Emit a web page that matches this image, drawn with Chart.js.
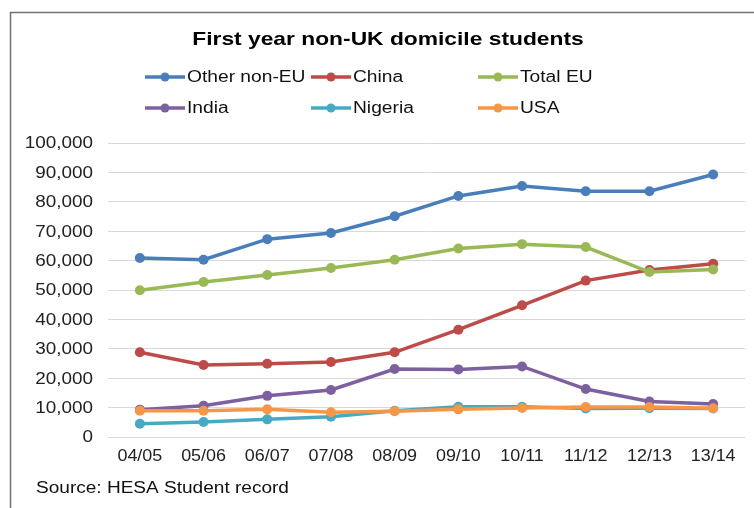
<!DOCTYPE html>
<html>
<head>
<meta charset="utf-8">
<script src="https://cdn.jsdelivr.net/npm/chart.js@4/dist/chart.umd.min.js"></script>
<style>
  html, body { margin: 0; padding: 0; background: #fff; }
  #wrap { position: relative; width: 754px; height: 508px; }
</style>
</head>
<body>
<div id="wrap"><canvas id="students" width="754" height="508"></canvas></div>
<script>
// academic years on the x axis
var years = ['04/05', '05/06', '06/07', '07/08', '08/09', '09/10', '10/11', '11/12', '12/13', '13/14'];

// first year students
var otherNonEU = [60900, 60300, 67300, 69400, 75100, 82000, 85400, 83600, 83600, 89300];
var china      = [28800, 24500, 24900, 25500, 28800, 36500, 44800, 53200, 56800, 58900];
var totalEU    = [49900, 52700, 55100, 57500, 60300, 64100, 65600, 64600, 56100, 57000];
var india      = [9300, 10600, 14000, 16000, 23100, 23000, 24000, 16300, 12100, 11200];
var nigeria    = [4500, 5100, 6000, 6900, 8900, 10300, 10300, 9700, 9800, 9700];
var usa        = [8900, 8900, 9400, 8400, 8800, 9400, 9900, 10200, 10200, 9800];

var names  = ['Other non-EU', 'China', 'Total EU', 'India', 'Nigeria', 'USA'];
var values = [otherNonEU, china, totalEU, india, nigeria, usa];
var colors = ['#4a7ebb', '#be4b48', '#98b954', '#7d60a0', '#46aac5', '#f79646'];

var titleText = 'First year non-UK domicile students';
var sourceText = 'Source: HESA Student record';

var datasets = [];
for (var i = 0; i < names.length; i++) {
    datasets.push({
        label: names[i],
        data: values[i],
        borderColor: colors[i],
        backgroundColor: colors[i],
        pointBackgroundColor: colors[i],
        pointBorderColor: colors[i],
        borderWidth: 3.5,
        pointRadius: 5,
        pointBorderWidth: 0,
        tension: 0,
        order: names.length - i
    });
}

var FONT = '"Liberation Sans", Arial, sans-serif';

// the source picture is a bit wider than tall, so text is drawn stretched
function wideText(ctx, text, x, y, align, sx) {
    ctx.save();
    ctx.translate(x, y);
    ctx.scale(sx, 1);
    ctx.textAlign = align;
    ctx.fillText(text, 0, 0);
    ctx.restore();
}

// frame, title, legend grid, tick labels and source line
var decor = {
    id: 'decor',
    beforeDraw: function(chart) {
        var ctx = chart.ctx;
        ctx.save();
        ctx.strokeStyle = '#707070';
        ctx.lineWidth = 1.5;
        ctx.beginPath();
        ctx.moveTo(10.5, 508);
        ctx.lineTo(10.5, 12.5);
        ctx.lineTo(754, 12.5);
        ctx.stroke();
        ctx.restore();
    },
    afterDraw: function(chart) {
        var ctx = chart.ctx;
        ctx.save();
        ctx.fillStyle = '#000';
        ctx.textBaseline = 'middle';
        ctx.font = 'bold 19px ' + FONT;
        wideText(ctx, titleText, 388, 40, 'center', 1.2);

        var colX = [145, 311, 478];
        var rowY = [77, 108];
        ctx.font = '16px ' + FONT;
        for (var i = 0; i < names.length; i++) {
            var x = colX[i % 3];
            var y = rowY[Math.floor(i / 3)];
            ctx.strokeStyle = colors[i];
            ctx.fillStyle = colors[i];
            ctx.lineWidth = 3.5;
            ctx.beginPath();
            ctx.moveTo(x, y);
            ctx.lineTo(x + 40, y);
            ctx.stroke();
            ctx.beginPath();
            ctx.arc(x + 20, y, 4.5, 0, Math.PI * 2);
            ctx.fill();
            ctx.fillStyle = '#111';
            wideText(ctx, names[i], x + 42, y + 1, 'left', 1.2);
        }

        // axis labels
        var xs = chart.scales.x, ys = chart.scales.y;
        ctx.fillStyle = '#222';
        ctx.font = '16px ' + FONT;
        ys.ticks.forEach(function(t) {
            wideText(ctx, t.value.toLocaleString('en-US'), 93, ys.getPixelForValue(t.value) + 1, 'right', 1.18);
        });
        years.forEach(function(lab, k) {
            wideText(ctx, lab, xs.getPixelForValue(k), 457, 'center', 1.12);
        });

        ctx.fillStyle = '#111';
        wideText(ctx, sourceText, 36, 489, 'left', 1.19);
        ctx.restore();
    }
};

var chart = new Chart(document.getElementById('students'), {
    type: 'line',
    data: { labels: years, datasets: datasets },
    options: {
        responsive: false,
        animation: false,
        layout: { padding: { left: 0, top: 143, right: 9, bottom: 41 } },
        plugins: {
            legend: { display: false },
            title: { display: false },
            tooltip: { enabled: false }
        },
        scales: {
            x: {
                offset: true,
                grid: { display: false, drawTicks: false },
                border: { display: false },
                ticks: { display: false },
                afterFit: function(s) { s.height = 30; }
            },
            y: {
                min: 0,
                max: 100000,
                ticks: { stepSize: 10000, display: false },
                grid: { color: '#d9d9d9', lineWidth: 1, drawTicks: false },
                border: { display: false },
                afterFit: function(s) { s.width = 108; }
            }
        }
    },
    plugins: [decor]
});
</script>
</body>
</html>
